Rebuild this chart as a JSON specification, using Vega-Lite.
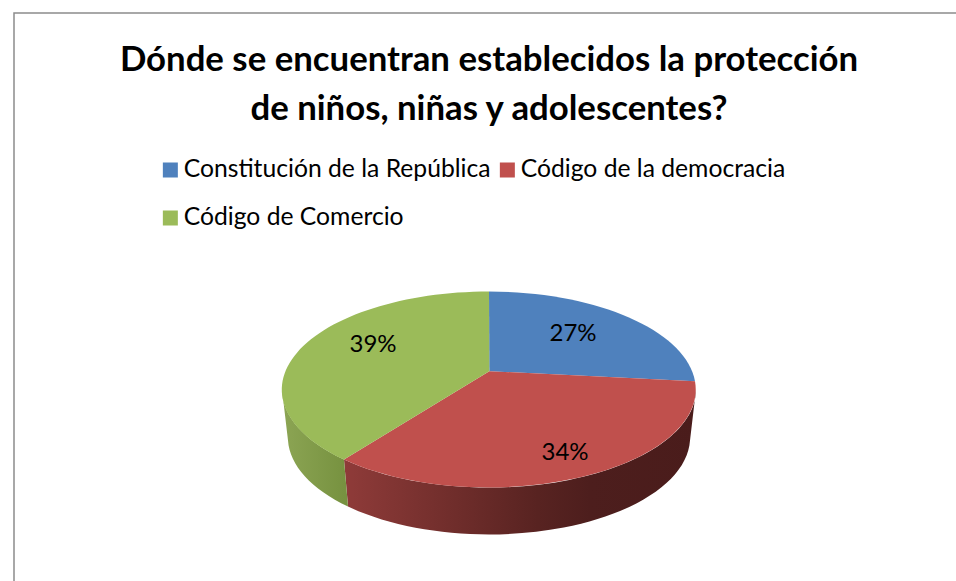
{
"$schema":"https://vega.github.io/schema/vega-lite/v6.json",
"width":945,"height":571,
"autosize":{"type":"none"},
"padding":{"left":14,"top":13,"right":-3,"bottom":-3},
"background":"white",
"view":{"stroke":"#8C8C8C","strokeWidth":1.5,"fill":"white"},
"title":{"text":["Dónde se encuentran establecidos la protección","de niños, niñas y adolescentes?"],"font":"Lato","fontSize":34.75,"fontWeight":"bold","color":"#000000","lineHeight":49,"anchor":"middle","frame":"group","dx":2.5,"orient":"top","offset":-142,"baseline":"alphabetic"},
"data":{"values":[
{"categoria":"Constitución de la República","valor":0.27},
{"categoria":"Código de la democracia","valor":0.34},
{"categoria":"Código de Comercio","valor":0.39}
]},
"layer":[
{"transform":[{"filter":"datum.categoria==='Código de la democracia'"}],
 "mark":{"type":"point","filled":true,"opacity":1,"size":4,"strokeWidth":0,"shape":"M-142.5 161A207 98 0 0 0 209.5 91L203.5 142A201 97 0 0 1 -138.5 208Z","fill":{"gradient":"linear","x1":0,"y1":0,"x2":1,"y2":0,"stops":[{"offset":0,"color":"#8F3B39"},{"offset":0.55,"color":"#582321"},{"offset":0.7,"color":"#4D1E1D"},{"offset":1,"color":"#4A1C1B"}]}},
 "encoding":{}},
{"transform":[{"filter":"datum.categoria==='Código de Comercio'"}],
 "mark":{"type":"point","filled":true,"opacity":1,"size":4,"strokeWidth":0,"shape":"M-142.5 161L-138.5 208A201 97 0 0 1 -198.5 142L-204.5 91A207 98 0 0 0 -142.5 161Z","fill":{"gradient":"linear","x1":0,"y1":0,"x2":1,"y2":0,"stops":[{"offset":0,"color":"#8CA554"},{"offset":1,"color":"#76913F"}]}},
 "encoding":{}},
{"transform":[{"filter":"datum.categoria==='Constitución de la República'"}],
 "mark":{"type":"point","filled":true,"opacity":1,"size":4,"strokeWidth":0,"shape":"M2.8 72.7L2.5 -7A207 98 0 0 1 208.5 82.7Z"},
 "encoding":{"color":{"field":"categoria","type":"nominal","scale":{"domain":["Constitución de la República","Código de Comercio","Código de la democracia"],"range":["#4F81BD","#9BBB59","#C0504D"]},"sort":null,"legend":{"title":null,"orient":"none","legendX":144,"legendY":144,"padding":0,"columns":2,"symbolType":"square","symbolSize":225,"symbolStrokeWidth":0,"symbolOpacity":1,"labelFont":"Lato","labelFontSize":24.7,"labelColor":"#000000","labelLimit":400,"labelOffset":1,"rowPadding":22,"columnPadding":4,"clipHeight":26}}}},
{"transform":[{"filter":"datum.categoria==='Código de la democracia'"}],
 "mark":{"type":"point","filled":true,"opacity":1,"size":4,"strokeWidth":0,"shape":"M2.8 72.7L208.5 82.7A207 98 0 0 1 -142.5 161Z"},
 "encoding":{"color":{"field":"categoria","type":"nominal"}}},
{"transform":[{"filter":"datum.categoria==='Código de Comercio'"}],
 "mark":{"type":"point","filled":true,"opacity":1,"size":4,"strokeWidth":0,"shape":"M2.8 72.7L-142.5 161A207 98 0 0 1 2.5 -7Z"},
 "encoding":{"color":{"field":"categoria","type":"nominal"}}},
{"transform":[{"filter":"datum.categoria==='Constitución de la República'"}],
 "mark":{"type":"text","font":"Lato","fontSize":24,"color":"#000000","baseline":"middle","align":"center","dx":86.5,"dy":35},
 "encoding":{"text":{"field":"valor","type":"quantitative","format":".0%"}}},
{"transform":[{"filter":"datum.categoria==='Código de la democracia'"}],
 "mark":{"type":"text","font":"Lato","fontSize":24,"color":"#000000","baseline":"middle","align":"center","dx":78.5,"dy":154},
 "encoding":{"text":{"field":"valor","type":"quantitative","format":".0%"}}},
{"transform":[{"filter":"datum.categoria==='Código de Comercio'"}],
 "mark":{"type":"text","font":"Lato","fontSize":24,"color":"#000000","baseline":"middle","align":"center","dx":-113.5,"dy":46},
 "encoding":{"text":{"field":"valor","type":"quantitative","format":".0%"}}}
]
}
